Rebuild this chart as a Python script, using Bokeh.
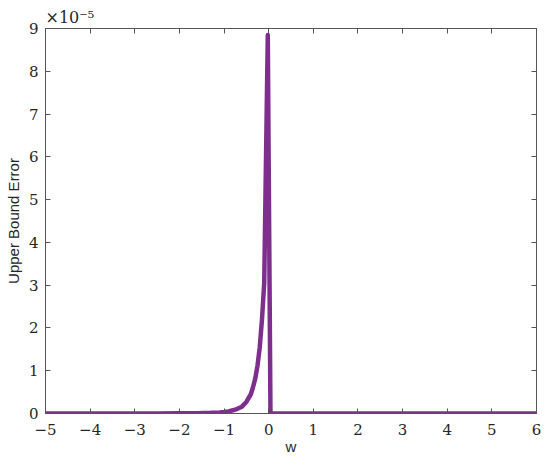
from bokeh.plotting import figure
from bokeh.models import LinearAxis, Range1d, Title, CustomJSTickFormatter, FixedTicker
from bokeh.embed import file_html
from bokeh.resources import INLINE

# data: w and upper bound error (in units of 1e-5)
w = [-5.0, -2.5, -2.0, -1.6, -1.3, -1.1, -1.0, -0.9, -0.8, -0.7, -0.6, -0.5,
     -0.4, -0.35, -0.3, -0.25, -0.2, -0.15, -0.1, -0.02, 0.04, 6.0]
err_e5 = [0.0, 0.001, 0.003, 0.008, 0.015, 0.025, 0.035, 0.05, 0.075, 0.11, 0.16, 0.27,
          0.45, 0.62, 0.82, 1.12, 1.55, 2.2, 3.05, 8.85, 0.0, 0.0]
x_ticks = [-5, -4, -3, -2, -1, 0, 1, 2, 3, 4, 5, 6]
y_ticks = [0, 1, 2, 3, 4, 5, 6, 7, 8, 9]

axis_col = "#555555"
tick_font = "DejaVu Serif"

p = figure(width=550, height=466, output_backend="svg", toolbar_location=None,
           x_range=Range1d(-5, 6), y_range=Range1d(0, 9),
           min_border_left=45, min_border_right=14, min_border_top=28, min_border_bottom=53)
p.xgrid.visible = False
p.ygrid.visible = False
p.outline_line_color = axis_col
p.background_fill_color = "white"
p.border_fill_color = "white"

fmt = CustomJSTickFormatter(code="return tick < 0 ? '\\u2212' + Math.abs(tick) : tick.toString();")

for ax in [p.xaxis[0], p.yaxis[0]]:
    ax.axis_line_color = axis_col
    ax.major_tick_line_color = axis_col
    ax.major_tick_in = 5
    ax.major_tick_out = 0
    ax.minor_tick_line_color = None
    ax.major_label_text_font = tick_font
    ax.major_label_text_font_size = "15px"
    ax.major_label_text_color = "#262626"
    ax.axis_label_text_font = "Liberation Sans"
    ax.axis_label_text_font_size = "15px"
    ax.axis_label_text_font_style = "normal"
    ax.axis_label_text_color = "#262626"
    ax.formatter = fmt

p.xaxis[0].ticker = FixedTicker(ticks=x_ticks)
p.yaxis[0].ticker = FixedTicker(ticks=y_ticks)
p.xaxis[0].axis_label = "w"
p.yaxis[0].axis_label = "Upper Bound Error"
p.xaxis[0].major_label_standoff = 10
p.xaxis[0].axis_label_standoff = 0
p.yaxis[0].major_label_standoff = 7
p.yaxis[0].axis_label_standoff = 4

top = LinearAxis(ticker=FixedTicker(ticks=x_ticks), major_label_text_font_size="0px",
                 axis_line_color=axis_col, major_tick_line_color=axis_col,
                 major_tick_in=5, major_tick_out=0, minor_tick_line_color=None,
                 major_label_standoff=0)
right = LinearAxis(ticker=FixedTicker(ticks=y_ticks), major_label_text_font_size="0px",
                   axis_line_color=axis_col, major_tick_line_color=axis_col,
                   major_tick_in=5, major_tick_out=0, minor_tick_line_color=None,
                   major_label_standoff=0)
top.major_label_text_color = None
right.major_label_text_color = None
p.add_layout(top, "above")
p.add_layout(right, "right")

p.line(w, err_e5, line_color="#7E2F8E", line_width=4.5, line_join="round")

p.add_layout(Title(text="\u00d710\u207b\u2075", align="left", offset=0, standoff=3,
                   text_font=tick_font, text_font_size="16px",
                   text_font_style="normal", text_color="#262626"), "above")

open("out.html", "w").write(file_html(p, INLINE))
